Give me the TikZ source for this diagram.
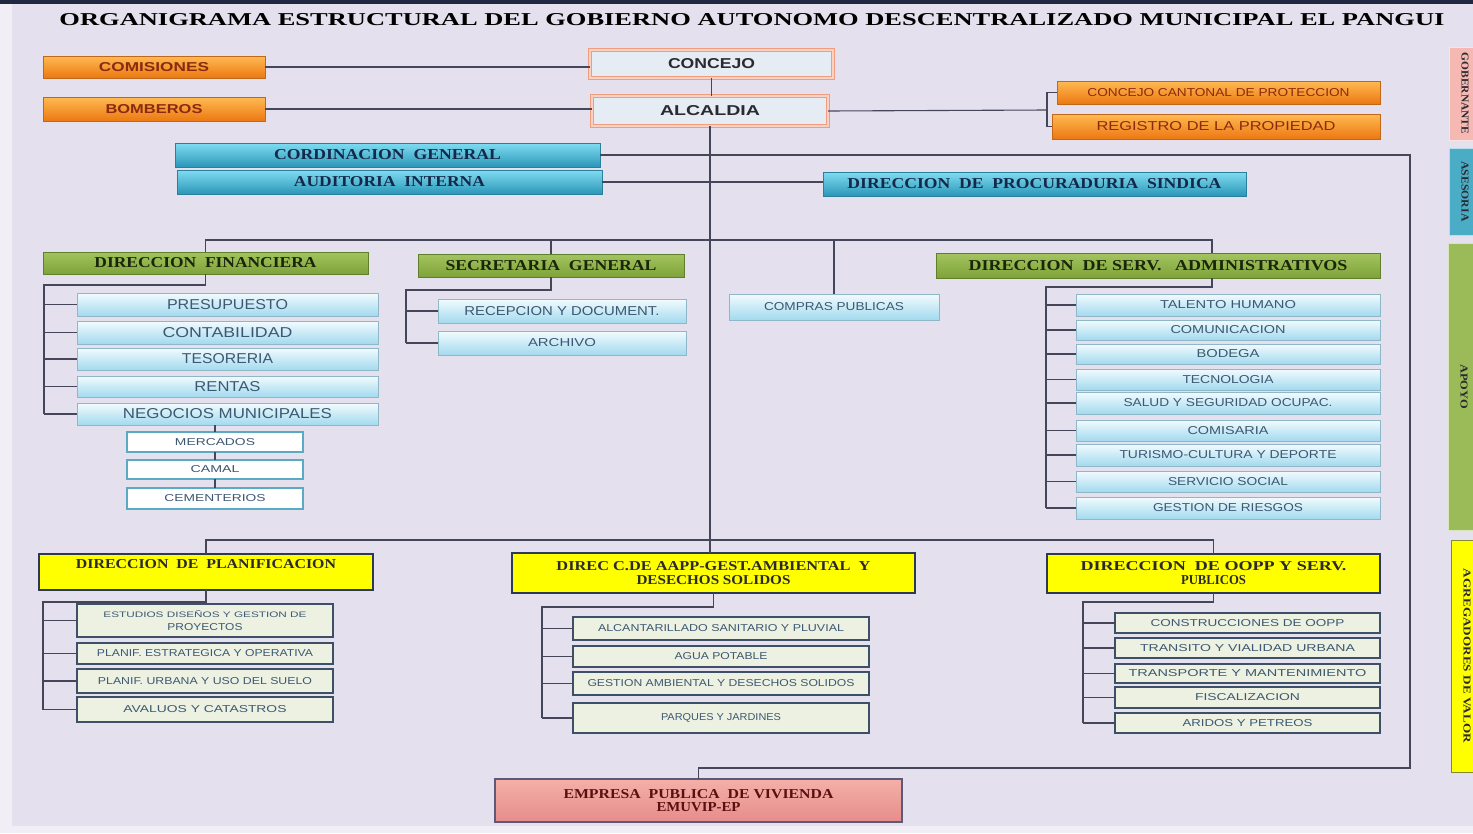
\documentclass[tikz,border=0pt]{standalone}
\usepackage{fontspec}
\setmainfont{Liberation Serif}
\newfontfamily\sansf{Liberation Sans}
\usepackage{graphicx}
\newcommand\fit[3]{\resizebox{#1pt}{#2pt}{#3}}
\newcommand\bx[7]{\node[#1, minimum width={#5pt-#3pt}, minimum height={#6pt-#4pt}] (#2) at ({(#3+#5)/2},{(#4+#6)/2}) {#7};}
\definecolor{bgc}{HTML}{E4E0ED}
\definecolor{edgec}{HTML}{F1EFF5}
\definecolor{navy}{HTML}{1E2840}
\definecolor{lnc}{HTML}{46465A}
\definecolor{orT}{HTML}{FFBA52}
\definecolor{orB}{HTML}{EC7812}
\definecolor{orD}{HTML}{C2661A}
\definecolor{orTx}{HTML}{8A2A10}
\definecolor{cyT}{HTML}{80DDF2}
\definecolor{cyB}{HTML}{2B96B8}
\definecolor{cyD}{HTML}{2A7F9C}
\definecolor{cyTx}{HTML}{14284A}
\definecolor{ltT}{HTML}{F2FBFE}
\definecolor{ltB}{HTML}{A2DAEE}
\definecolor{ltD}{HTML}{8FB7C8}
\definecolor{ltTx}{HTML}{3C5872}
\definecolor{grT}{HTML}{A3C45E}
\definecolor{grB}{HTML}{7FA23A}
\definecolor{grD}{HTML}{5F7F2A}
\definecolor{grTx}{HTML}{1A260A}
\definecolor{yl}{HTML}{FFFF00}
\definecolor{ylD}{HTML}{2E3A55}
\definecolor{bgF}{HTML}{EDF1E1}
\definecolor{slD}{HTML}{3E5068}
\definecolor{sal}{HTML}{F29C7E}
\definecolor{cjF}{HTML}{E6ECF3}
\definecolor{emT}{HTML}{F4B0A8}
\definecolor{emB}{HTML}{E68C8A}
\definecolor{emD}{HTML}{5C5A78}
\definecolor{emTx}{HTML}{5A1010}
\definecolor{mkD}{HTML}{5AAAC4}
\definecolor{sPk}{HTML}{F5B8B2}
\definecolor{sBl}{HTML}{4BACC6}
\definecolor{sGr}{HTML}{9BBB59}
\definecolor{dkTx}{HTML}{2A2A30}
\tikzset{
 box/.style={inner sep=0pt, outer sep=0pt},
 orbox/.style={box, top color=orT, bottom color=orB, draw=orD, line width=0.6pt, text=orTx},
 cybox/.style={box, top color=cyT, bottom color=cyB, draw=cyD, line width=0.6pt, text=cyTx},
 ltbox/.style={box, top color=ltT, bottom color=ltB, draw=ltD, line width=0.8pt, text=ltTx},
 grbox/.style={box, top color=grT, bottom color=grB, draw=grD, line width=0.6pt, text=grTx},
 ylbox/.style={box, fill=yl, draw=ylD, line width=1.6pt, text=dkTx, align=center, font=\fontsize{10}{14}\selectfont},
 bgbox/.style={box, fill=bgF, draw=slD, line width=1.8pt, text=ltTx, align=center, font=\fontsize{9}{13}\selectfont},
 cjbox/.style={box, fill=cjF, draw=sal, line width=1pt, double=white!55!sal, double distance=2pt, text=dkTx},
 mkbox/.style={box, fill=white, draw=mkD, line width=1.5pt, text=ltTx},
 embox/.style={box, top color=emT, bottom color=emB, draw=emD, line width=1.8pt, text=emTx, align=center, font=\fontsize{10}{12.5}\selectfont},
 sidebar/.style={box, rotate=-90, minimum height=31pt, text=dkTx, line width=1pt},
 conn/.style={draw=lnc, line width=1.1pt},
}
\begin{document}
\begin{tikzpicture}[x=1pt,y=-1pt]
\useasboundingbox (0,0) rectangle (1473,833);
\fill[bgc] (0,0) rectangle (1473,833);
\fill[edgec] (0,0) rectangle (12,833);
\fill[edgec] (0,826) rectangle (1473,833);
\fill[navy] (0,0) rectangle (1473,4);

\node[text=black] (title) at (752,20) {\fit{1385}{12}{\bfseries ORGANIGRAMA ESTRUCTURAL DEL GOBIERNO AUTONOMO DESCENTRALIZADO MUNICIPAL EL PANGUI}};

% top level
\bx{orbox}{comis}{43}{56}{265}{78}{\fit{110}{9}{\sansf\bfseries COMISIONES}}
\bx{orbox}{bomb}{43}{97}{265}{121}{\fit{97}{9}{\sansf\bfseries BOMBEROS}}
\bx{cjbox}{conc}{590}{50}{833}{78}{\fit{87}{10}{\sansf\bfseries CONCEJO}}
\bx{cjbox}{alc}{592}{96}{828}{126}{\fit{100}{10}{\sansf\bfseries ALCALDIA}}
\bx{orbox}{ccp}{1057}{81}{1380}{104}{\fit{262}{8}{\sansf CONCEJO CANTONAL DE PROTECCION}}
\bx{orbox}{reg}{1052}{114}{1380}{139}{\fit{239}{9}{\sansf REGISTRO DE LA PROPIEDAD}}
\bx{cybox}{cord}{175}{143}{600}{167}{\fit{227}{10}{\bfseries CORDINACION\ \ GENERAL}}
\bx{cybox}{aud}{177}{170}{602}{194}{\fit{191}{10}{\bfseries AUDITORIA\ \ INTERNA}}
\bx{cybox}{proc}{823}{172}{1246}{196}{\fit{374}{10}{\bfseries DIRECCION\ \ DE\ \ PROCURADURIA\ \ SINDICA}}

% green heads
\bx{grbox}{dfin}{43}{252}{368}{274}{\fit{222}{10}{\bfseries DIRECCION\ \ FINANCIERA}}
\bx{grbox}{secg}{418}{254}{684}{277}{\fit{211}{10}{\bfseries SECRETARIA\ \ GENERAL}}
\bx{grbox}{dserv}{936}{253}{1380}{278}{\fit{379}{10}{\bfseries DIRECCION\ \ DE\ SERV.\ \ \ ADMINISTRATIVOS}}

% financiera subs
\bx{ltbox}{presup}{77}{293}{378}{316}{\fit{121}{10}{\sansf PRESUPUESTO}}
\bx{ltbox}{conta}{77}{321}{378}{344}{\fit{130}{10}{\sansf CONTABILIDAD}}
\bx{ltbox}{teso}{77}{348}{378}{370}{\fit{91}{10}{\sansf TESORERIA}}
\bx{ltbox}{rentas}{77}{376}{378}{397}{\fit{66}{10}{\sansf RENTAS}}
\bx{ltbox}{negoc}{77}{403}{378}{425}{\fit{209}{10}{\sansf NEGOCIOS MUNICIPALES}}
\bx{mkbox}{merc}{127}{432}{303}{452}{\fit{80}{7}{\sansf MERCADOS}}
\bx{mkbox}{camal}{127}{460}{303}{479}{\fit{49}{7}{\sansf CAMAL}}
\bx{mkbox}{cem}{127}{488}{303}{509}{\fit{101}{7}{\sansf CEMENTERIOS}}

% secretaria subs
\bx{ltbox}{recep}{438}{299}{686}{323}{\fit{195}{9}{\sansf RECEPCION Y DOCUMENT.}}
\bx{ltbox}{arch}{438}{331}{686}{355}{\fit{68}{8}{\sansf ARCHIVO}}
\bx{ltbox}{compras}{729}{294}{939}{320}{\fit{140}{8}{\sansf COMPRAS PUBLICAS}}

% serv admin subs
\bx{ltbox}{tal}{1076}{294}{1380}{316}{\fit{136}{8}{\sansf TALENTO HUMANO}}
\bx{ltbox}{comu}{1076}{320}{1380}{340}{\fit{115}{8}{\sansf COMUNICACION}}
\bx{ltbox}{bod}{1076}{344}{1380}{364}{\fit{63}{8}{\sansf BODEGA}}
\bx{ltbox}{tec}{1076}{369}{1380}{390}{\fit{91}{8}{\sansf TECNOLOGIA}}
\bx{ltbox}{sal}{1076}{392}{1380}{414}{\fit{209}{8}{\sansf SALUD Y SEGURIDAD OCUPAC.}}
\bx{ltbox}{comi}{1076}{420}{1380}{441}{\fit{81}{8}{\sansf COMISARIA}}
\bx{ltbox}{tur}{1076}{444}{1380}{466}{\fit{217}{8}{\sansf TURISMO-CULTURA Y DEPORTE}}
\bx{ltbox}{serv}{1076}{471}{1380}{492}{\fit{120}{8}{\sansf SERVICIO SOCIAL}}
\bx{ltbox}{ries}{1076}{497}{1380}{519}{\fit{150}{8}{\sansf GESTION DE RIESGOS}}

% yellow heads
\bx{ylbox}{dplan}{39}{554}{373}{590}{\raisebox{8pt}[9pt][0pt]{\fit{260}{9}{\bfseries DIRECCION\ \ DE\ \ PLANIFICACION}}}
\bx{ylbox}{aapp}{512}{553}{915}{593}{\fit{314}{9}{\bfseries DIREC C.DE AAPP-GEST.AMBIENTAL\ \ Y}\\\fit{154}{9}{\bfseries DESECHOS SOLIDOS}}
\bx{ylbox}{doopp}{1047}{554}{1380}{593}{\fit{266}{9}{\bfseries DIRECCION\ \ DE OOPP Y SERV.}\\\fit{65}{9}{\bfseries PUBLICOS}}

% planificacion subs
\bx{bgbox}{estud}{77}{604}{333}{637}{\fit{203}{7}{\sansf ESTUDIOS DISEÑOS Y GESTION DE}\\\fit{75}{7}{\sansf PROYECTOS}}
\bx{bgbox}{plane}{77}{643}{333}{664}{\fit{216}{7}{\sansf PLANIF. ESTRATEGICA Y OPERATIVA}}
\bx{bgbox}{planu}{77}{669}{333}{693}{\fit{214}{7}{\sansf PLANIF. URBANA Y USO DEL SUELO}}
\bx{bgbox}{aval}{77}{697}{333}{722}{\fit{163}{7}{\sansf AVALUOS Y CATASTROS}}

% aapp subs
\bx{bgbox}{alcan}{573}{617}{869}{640}{\fit{246}{7}{\sansf ALCANTARILLADO SANITARIO Y PLUVIAL}}
\bx{bgbox}{agua}{573}{646}{869}{667}{\fit{93}{7}{\sansf AGUA POTABLE}}
\bx{bgbox}{gamb}{573}{672}{869}{695}{\fit{267}{7}{\sansf GESTION AMBIENTAL Y DESECHOS SOLIDOS}}
\bx{bgbox}{parq}{573}{703}{869}{733}{\fit{120}{7}{\sansf PARQUES Y JARDINES}}

% oopp subs
\bx{bgbox}{cons}{1115}{613}{1380}{633}{\fit{194}{7}{\sansf CONSTRUCCIONES DE OOPP}}
\bx{bgbox}{trans}{1115}{638}{1380}{658}{\fit{215}{7}{\sansf TRANSITO Y VIALIDAD URBANA}}
\bx{bgbox}{transp}{1115}{664}{1380}{683}{\fit{238}{7}{\sansf TRANSPORTE Y MANTENIMIENTO}}
\bx{bgbox}{fisc}{1115}{687}{1380}{708}{\fit{105}{7}{\sansf FISCALIZACION}}
\bx{bgbox}{arid}{1115}{713}{1380}{733}{\fit{130}{7}{\sansf ARIDOS Y PETREOS}}

% empresa
\bx{embox}{emp}{495}{779}{902}{822}{\fit{270}{9}{\bfseries EMPRESA\ \ PUBLICA\ \ DE VIVIENDA}\\\fit{84}{9}{\bfseries EMUVIP-EP}}

% side bars
\node[sidebar, fill=sPk, draw=white!60!sPk, minimum width=93pt] (gob) at (1465,93.5) {\fit{81}{7}{\bfseries GOBERNANTE}};
\node[sidebar, fill=sBl, draw=white!60!sBl, minimum width=87pt] (ase) at (1465,191.5) {\fit{60}{7}{\bfseries ASESORIA}};
\node[sidebar, fill=sGr, draw=white!60!sGr, minimum width=287pt] (apo) at (1464,386.5) {\fit{45}{7}{\bfseries APOYO}};
\node[sidebar, fill=yl, draw=ylD!60!yl, minimum width=232pt] (agr) at (1467,656) {\fit{174}{7}{\bfseries AGREGADORES DE VALOR}};

% coordinates
\coordinate (b1) at (711,240);
\coordinate (b1R) at (1212,240);
\coordinate (b2L) at (205,540);
\coordinate (rk) at (1047,110);
\coordinate (fr) at (1410,768);
\coordinate (fK) at (44,285);
\coordinate (sK) at (406,290);
\coordinate (vK) at (1046,287);
\coordinate (pK) at (43,602);
\coordinate (aK) at (542,607);
\coordinate (oK) at (1083,602);

% connectors
\draw[conn] (comis.east) -- (comis.east -| conc.west);
\draw[conn] (bomb.east) -- (bomb.east -| alc.west);
\draw[conn] (conc.south) -- (conc.south |- alc.north);
\draw[conn] (alc.east) -- (rk);
\draw[conn] (ccp.west) -| (rk) |- (reg.west);
\draw[conn] (alc.south) -- (alc.south |- aapp.north);
\draw[conn] (cord.east) -| (fr) -| (emp.north);
\draw[conn] (aud.east) -- (aud.east -| proc.west);

\draw[conn] (dfin.north) |- (b1R) -- (b1R |- dserv.north);
\draw[conn] (secg.north) -- (secg.north |- b1);
\draw[conn] (compras.north) -- (compras.north |- b1);

\draw[conn] (dfin.south) |- (fK) -- (fK |- negoc.west);
\foreach \n in {presup,conta,teso,rentas,negoc} \draw[conn] (fK |- \n.west) -- (\n.west);
\draw[conn] (negoc.south -| merc.north) -- (merc.north);
\draw[conn] (merc.south) -- (camal.north);
\draw[conn] (camal.south) -- (cem.north);

\draw[conn] (secg.south) |- (sK) -- (sK |- arch.west);
\foreach \n in {recep,arch} \draw[conn] (sK |- \n.west) -- (\n.west);

\draw[conn] (dserv.south -| b1R) |- (vK) -- (vK |- ries.west);
\foreach \n in {tal,comu,bod,tec,sal,comi,tur,serv,ries} \draw[conn] (vK |- \n.west) -- (\n.west);

\draw[conn] (dplan.north) -- (dplan.north |- b2L) -| (doopp.north);

\draw[conn] (dplan.south) |- (pK) -- (pK |- aval.west);
\foreach \n in {estud,plane,planu,aval} \draw[conn] (pK |- \n.west) -- (\n.west);

\draw[conn] (aapp.south) |- (aK) -- (aK |- parq.west);
\foreach \n in {alcan,agua,gamb,parq} \draw[conn] (aK |- \n.west) -- (\n.west);

\draw[conn] (doopp.south) |- (oK) -- (oK |- arid.west);
\foreach \n in {cons,trans,transp,fisc,arid} \draw[conn] (oK |- \n.west) -- (\n.west);
\end{tikzpicture}
\end{document}
